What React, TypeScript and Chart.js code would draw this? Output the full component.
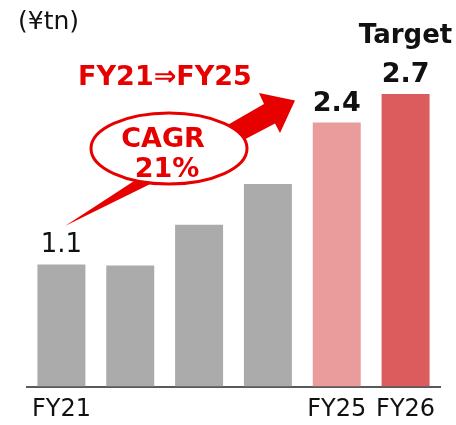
import React, { useEffect, useRef } from "react";
import { Chart, registerables } from "chart.js";

Chart.register(...registerables);

const categories = ["FY21", "FY22", "FY23", "FY24", "FY25", "FY26"];
const tickLabels = ["FY21", "", "", "", "FY25", "FY26"];
const values = [1.11, 1.1, 1.47, 1.84, 2.4, 2.66];
const valueLabels = ["1.1", "", "", "", "2.4", "2.7"];
const valueLabelBold = [false, false, false, false, true, true];
const barColors = ["#ABABAB", "#ABABAB", "#ABABAB", "#ABABAB", "#EA9C9C", "#DC5B5D"];
const targetIndex = 5;
const targetText = "Target";
const unitText = "(¥tn)";
const periodText = "FY21⇒FY25";
const cagrLines = ["CAGR", "21%"];

const RED = "#E60000";
const FONT = "'DejaVu Sans', Verdana, sans-serif";

const annotationPlugin = {
  id: "annotations",
  afterDatasetsDraw(chart: any) {
    const ctx = chart.ctx as CanvasRenderingContext2D;
    ctx.save();

    // arrow
    ctx.fillStyle = RED;
    ctx.beginPath();
    ctx.moveTo(205, 138);
    ctx.lineTo(264, 104);
    ctx.lineTo(259, 93);
    ctx.lineTo(295, 100.5);
    ctx.lineTo(280, 133);
    ctx.lineTo(275, 123.5);
    ctx.lineTo(215, 155);
    ctx.closePath();
    ctx.fill();

    // bubble tail
    ctx.beginPath();
    ctx.moveTo(140.6, 176.8);
    ctx.lineTo(65, 226);
    ctx.lineTo(157.4, 180.4);
    ctx.closePath();
    ctx.fill();

    // ellipse
    ctx.beginPath();
    ctx.ellipse(169, 148.5, 78, 35.5, 0, 0, Math.PI * 2);
    ctx.fillStyle = "#FFFFFF";
    ctx.fill();
    ctx.lineWidth = 3;
    ctx.strokeStyle = RED;
    ctx.stroke();

    ctx.textAlign = "center";
    ctx.textBaseline = "alphabetic";
    ctx.fillStyle = RED;
    ctx.font = `bold 27px ${FONT}`;
    ctx.fillText(cagrLines[0], 163, 147);
    ctx.fillText(cagrLines[1], 167, 177);
    ctx.fillText(periodText, 165, 85);

    ctx.fillStyle = "#111111";
    ctx.font = `25px ${FONT}`;
    ctx.fillText(unitText, 48.5, 29);

    // value labels
    const meta = chart.getDatasetMeta(0);
    meta.data.forEach((bar: any, i: number) => {
      const txt = valueLabels[i];
      if (!txt) return;
      ctx.font = valueLabelBold[i] ? `bold 27px ${FONT}` : `26px ${FONT}`;
      ctx.fillText(txt, bar.x, bar.y - 12);
      if (i === targetIndex) {
        ctx.font = `bold 26px ${FONT}`;
        ctx.fillText(targetText, bar.x, bar.y - 51);
      }
    });

    ctx.restore();
  },
};

export default function App() {
  const ref = useRef<HTMLCanvasElement | null>(null);
  useEffect(() => {
    if (!ref.current) return;
    const chart = new Chart(ref.current, {
      type: "bar",
      data: {
        labels: categories,
        datasets: [
          {
            data: values,
            backgroundColor: barColors,
            borderWidth: 0,
            barPercentage: 0.697,
            categoryPercentage: 1.0,
          },
        ],
      },
      options: {
        animation: false,
        responsive: false,
        devicePixelRatio: 1,
        layout: { padding: { top: 12.5, left: 27, right: 16, bottom: 0 } },
        plugins: {
          legend: { display: false },
          tooltip: { enabled: false },
        },
        scales: {
          x: {
            type: "category",
            offset: true,
            grid: { display: false, drawTicks: false },
            border: { display: true, color: "#595959", width: 2 },
            ticks: {
              autoSkip: false,
              maxRotation: 0,
              minRotation: 0,
              padding: 9,
              color: "#111111",
              font: { family: FONT, size: 24 },
              callback: (_v: any, i: number) => tickLabels[i],
            },
            afterFit: (scale: any) => {
              scale.height = 38.5;
            },
          },
          y: { display: false, min: 0, max: 3.4 },
        },
      },
      plugins: [annotationPlugin],
    });
    return () => chart.destroy();
  }, []);
  return (
    <div style={{ position: "fixed", left: 0, top: 0, width: 456, height: 425, background: "#fff" }}>
      <canvas ref={ref} width={456} height={425} />
    </div>
  );
}
